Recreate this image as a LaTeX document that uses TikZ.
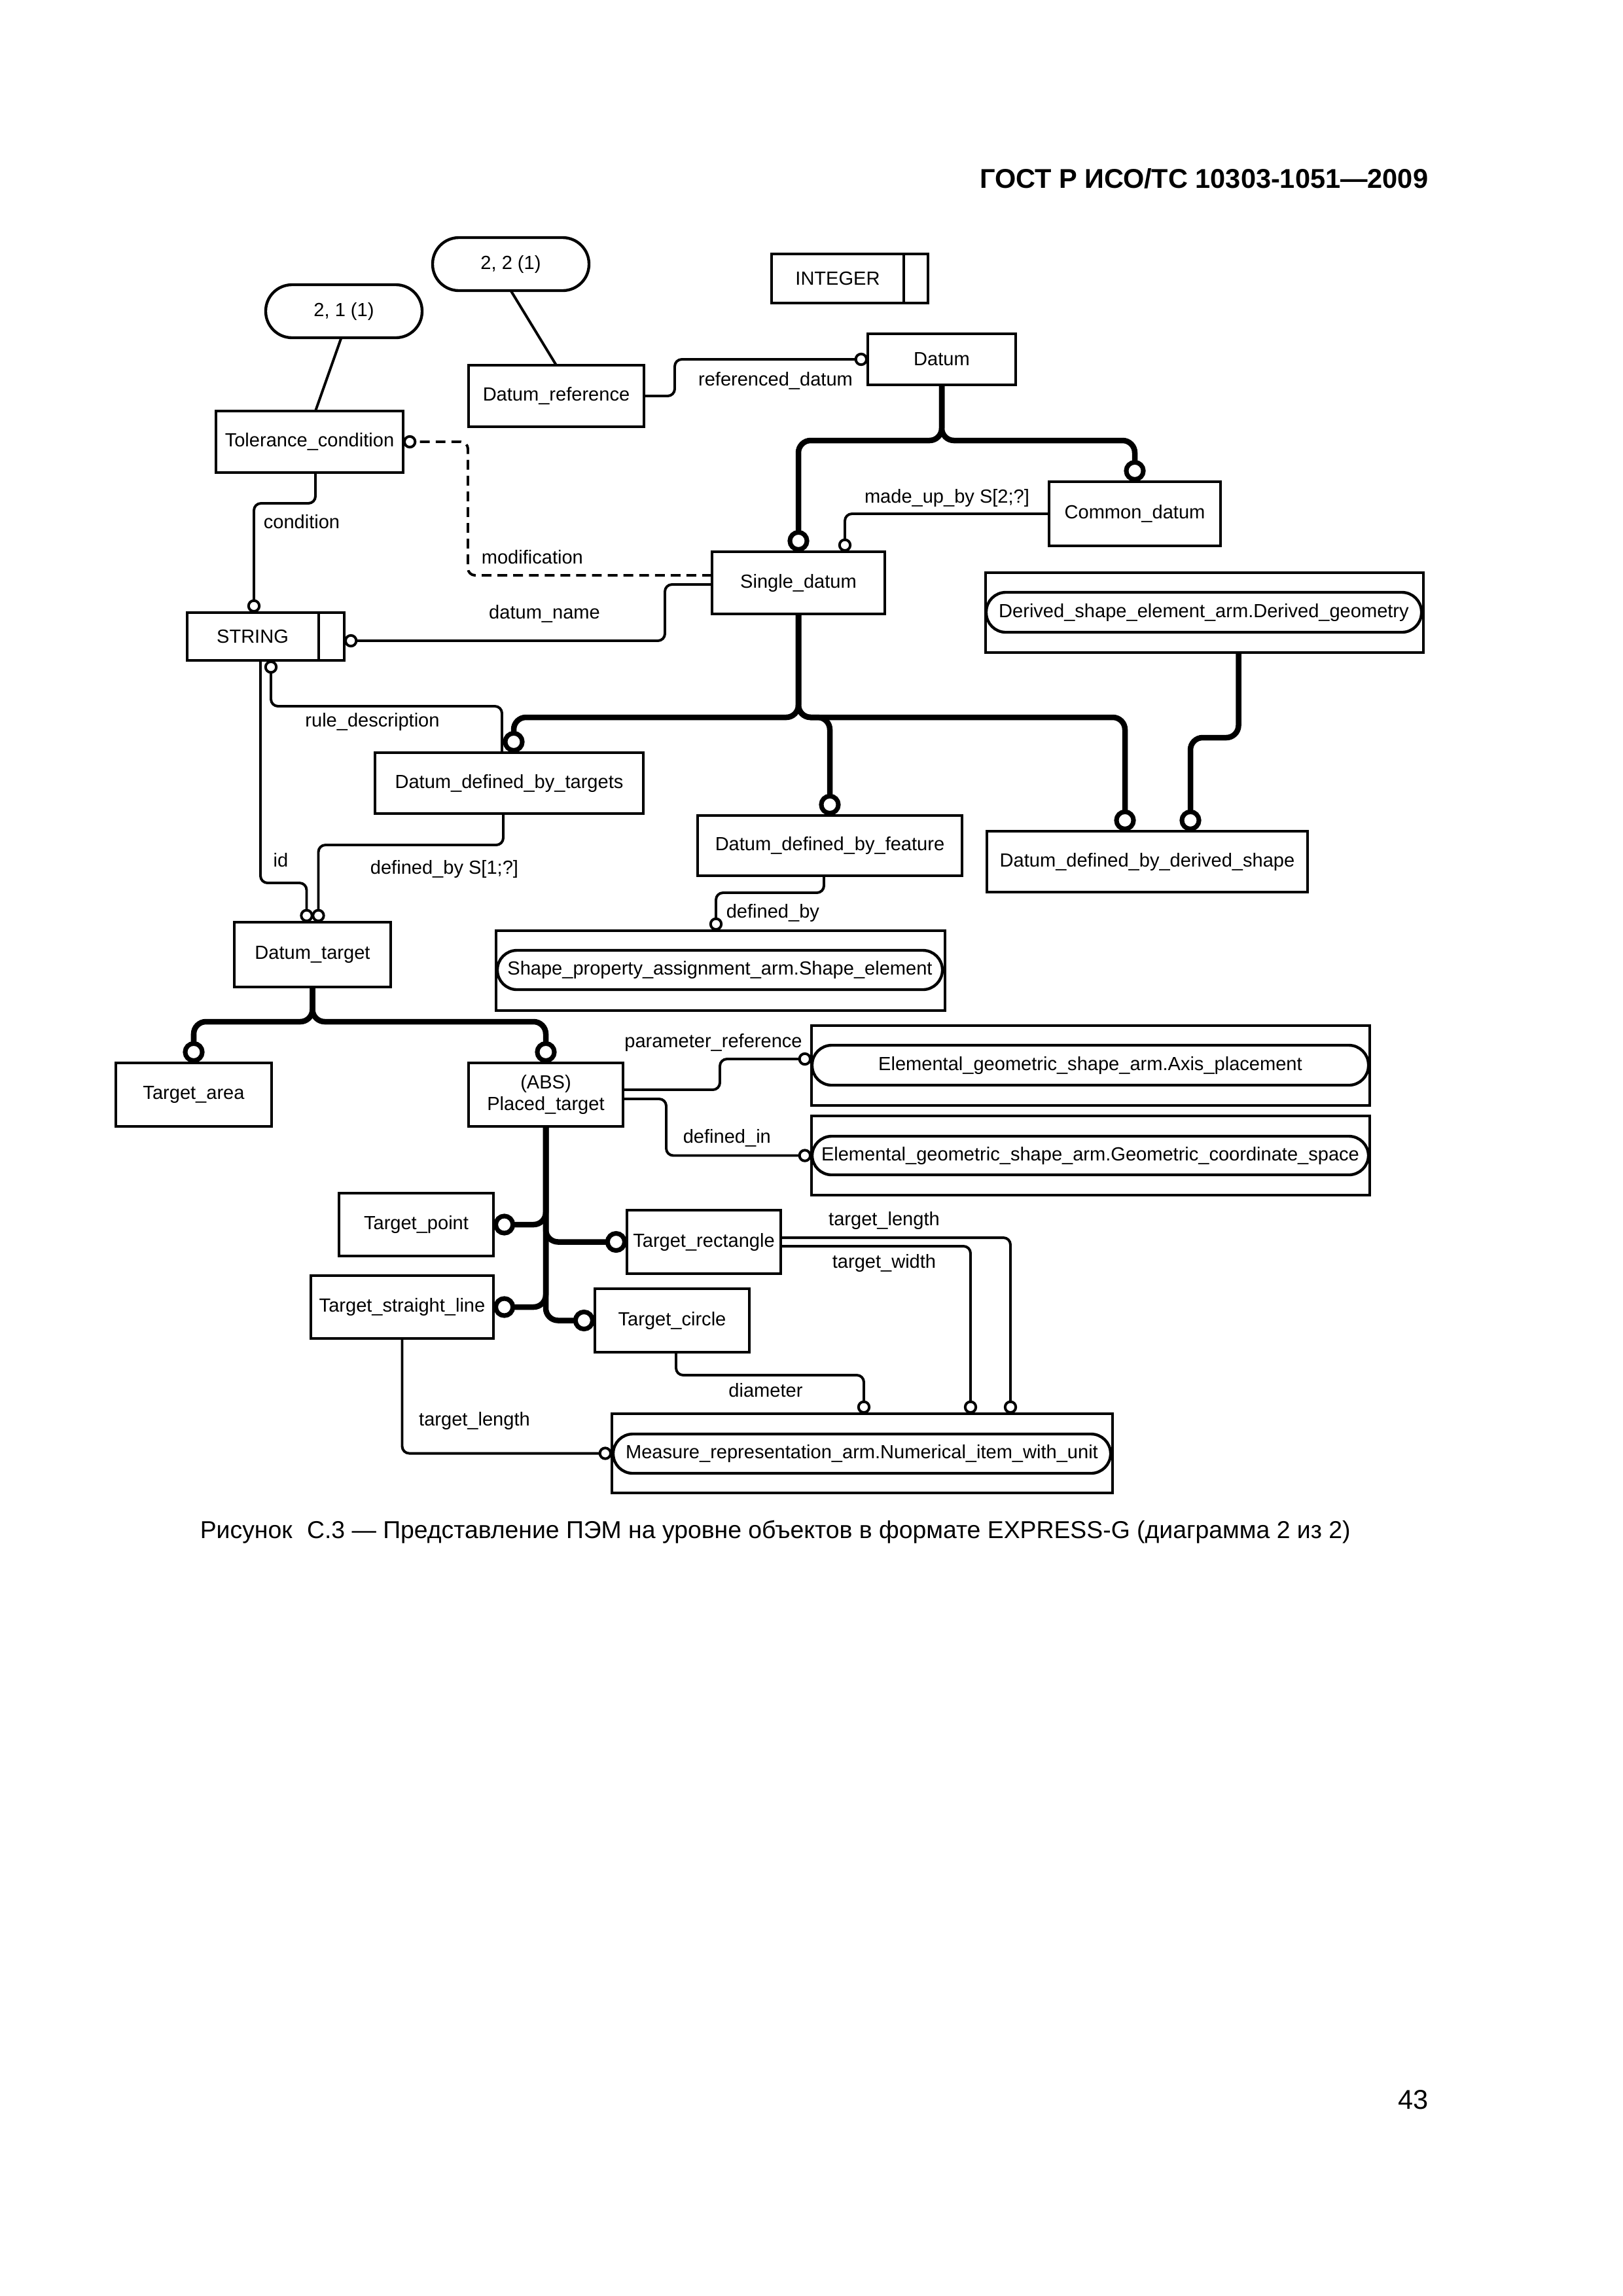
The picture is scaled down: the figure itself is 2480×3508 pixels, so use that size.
\documentclass[tikz,border=0pt]{standalone}
\usepackage{fontspec}
\setmainfont{Liberation Sans}
\usetikzlibrary{arrows.meta,calc}
\def\px{0.24094pt}
\newcommand\DiagFont{\fontsize{7}{8}\selectfont}
\newcommand\EntBox[7][ent]{\node[#1, minimum width={(#5-#3)*\px}, minimum height={(#6-#4)*\px}] (#2) at ({(#3+#5)/2},{(#4+#6)/2}) {#7};}
\begin{document}
\begin{tikzpicture}[x=0.24094pt, y=-0.24094pt,
  ent/.style={draw, line width=1.05pt, inner sep=0pt, outer sep=0pt, font=\DiagFont, align=center},
  oval/.style={ent, rounded corners=9.7pt},
  inoval/.style={ent, rounded corners=7.2pt},
  plain/.style={line width=0.95pt},
  rel/.style={line width=0.95pt, rounded corners=2.6pt, -{Circle[open,length=4.9pt,width=4.9pt]}},
  sub/.style={line width=2.05pt, rounded corners=4.5pt, -{Circle[open,length=8pt,width=8pt,line width=1.7pt]}},
  lbl/.style={font=\DiagFont, inner sep=0pt}]
\useasboundingbox (0,0) rectangle (2480,3508);
\fill[white] (0,0) rectangle (2480,3508);

% header, caption, page number
\node[anchor=base east, font=\fontsize{10}{12}\selectfont\bfseries, inner sep=0pt] (hdr) at (2183,287) {ГОСТ Р ИСО/ТС 10303-1051—2009};
\node[anchor=base west, font=\fontsize{9}{11}\selectfont, inner sep=0pt] (cap) at (305,2350) {Рисунок\hspace{0.6em}С.3 — Представление ПЭМ на уровне объектов в формате EXPRESS-G (диаграмма 2 из 2)};
\node[anchor=base east, font=\fontsize{10}{12}\selectfont, inner sep=0pt] (pg) at (2183,3222) {43};

% entities
\EntBox[oval]{ovA}{406}{435}{645}{516}{2, 1 (1)}
\EntBox[oval]{ovB}{661}{363}{900}{444}{2, 2 (1)}
\EntBox{integer}{1179}{388}{1418}{463}{}
\node[lbl] (integertxt) at (1280,425.5) {INTEGER};
\draw[line width=1.05pt] ($(integer.north east)+(-37,0)$) -- ($(integer.south east)+(-37,0)$);
\EntBox{datum}{1326}{510}{1552}{588}{Datum}
\EntBox{dref}{716}{558}{984}{652}{Datum\_reference}
\EntBox{tol}{330}{628}{616}{722}{Tolerance\_condition}
\EntBox{common}{1603}{736}{1865}{834}{Common\_datum}
\EntBox{single}{1088}{843}{1352}{938}{Single\_datum}
\EntBox{string}{286}{936}{526}{1009}{}
\node[lbl] (stringtxt) at (386,972.5) {STRING};
\draw[line width=1.05pt] ($(string.north east)+(-39,0)$) -- ($(string.south east)+(-39,0)$);
\EntBox{derived}{1506}{875}{2175}{997}{}
\EntBox[inoval]{derivedin}{1507}{905}{2172}{966}{Derived\_shape\_element\_arm.Derived\_geometry}
\EntBox{ddt}{573}{1150}{983}{1243}{Datum\_defined\_by\_targets}
\EntBox{ddf}{1066}{1246}{1470}{1338}{Datum\_defined\_by\_feature}
\EntBox{dds}{1508}{1270}{1998}{1363}{Datum\_defined\_by\_derived\_shape}
\EntBox{dtarget}{358}{1409}{597}{1508}{Datum\_target}
\EntBox{shape}{758}{1422}{1444}{1544}{}
\EntBox[inoval]{shapein}{760}{1452}{1440}{1512}{Shape\_property\_assignment\_arm.Shape\_element}
\EntBox{tarea}{177}{1624}{415}{1721}{Target\_area}
\EntBox{placed}{716}{1624}{952}{1721}{(ABS)\\Placed\_target}
\EntBox{axis}{1240}{1567}{2093}{1689}{}
\EntBox[inoval]{axisin}{1241}{1597}{2091}{1658}{Elemental\_geometric\_shape\_arm.Axis\_placement}
\EntBox{geo}{1240}{1705}{2093}{1826}{}
\EntBox[inoval]{geoin}{1241}{1736}{2091}{1795}{Elemental\_geometric\_shape\_arm.Geometric\_coordinate\_space}
\EntBox{tpoint}{518}{1823}{754}{1919}{Target\_point}
\EntBox{trect}{958}{1849}{1193}{1946}{Target\_rectangle}
\EntBox{tline}{475}{1949}{754}{2045}{Target\_straight\_line}
\EntBox{tcircle}{909}{1969}{1145}{2066}{Target\_circle}
\EntBox{measure}{935}{2160}{1700}{2281}{}
\EntBox[inoval]{measurein}{937}{2191}{1697}{2251}{Measure\_representation\_arm.Numerical\_item\_with\_unit}

% page references
\draw[plain] ($(ovA.south)+(-4,0)$) -- ($(tol.north)+(9,0)$);
\draw[plain] (ovB.south) -- (dref.north);

% attributes
\draw[rel] (dref.east) -- (1031,605) -- (1031,549) -- (datum.west);
\draw[rel, dash pattern=on 3.6pt off 2.2pt] ($(single.west)+(0,-11.5)$) -- (715,879) -- (715,675) -- (tol.east);
\draw[rel] ($(tol.south)+(9,0)$) -- (482,769) -| ($(string.north)+(-18,0)$);
\draw[rel] ($(single.west)+(0,2.5)$) -- (1016,893) -- (1016,979) -- ($(string.east)+(0,6.5)$);
\draw[rel] (common.west) -| ($(single.north)+(71,0)$);
\draw[rel] ($(ddt.north)+(-11,0)$) -- (767,1079) -| ($(string.south)+(8,0)$);
\draw[rel] ($(string.south)+(-8,0)$) -- (398,1349) -| ($(dtarget.north)+(-9,0)$);
\draw[rel] ($(ddt.south)+(-9,0)$) -- (769,1291) -| ($(dtarget.north)+(9,0)$);
\draw[rel] ($(ddf.south)+(-9,0)$) -- (1259,1364) -| ($(shape.north)+(-7,0)$);
\draw[rel] ($(placed.east)+(0,-7.5)$) -- (1100,1665) -- (1100,1618) -- ($(axis.west)+(0,-10)$);
\draw[rel] ($(placed.east)+(0,6.5)$) -- (1018,1679) -- (1018,1765.5) -- (geo.west);
\draw[rel] ($(trect.east)+(0,-6.5)$) -- (1544,1891) -- ($(measure.north)+(226.5,0)$);
\draw[rel] ($(trect.east)+(0,6.5)$) -- (1483,1904) -- ($(measure.north)+(165.5,0)$);
\draw[rel] ($(tcircle.south)+(6,0)$) -- (1033,2101) -| ($(measure.north)+(2.5,0)$);
\draw[rel] (tline.south) |- (measure.west);

% subtypes
\draw[sub] (datum.south) -- ++(0,85) -| (single.north);
\draw[sub] (datum.south) -- ++(0,85) -| (common.north);
\draw[sub] (single.south) -- ++(0,158) -| ($(ddt.north)+(7,0)$);
\draw[sub] (single.south) -- ++(0,158) -| (ddf.north);
\draw[sub] (single.south) -- ++(0,158) -| ($(dds.north)+(-34,0)$);
\draw[sub] ($(derived.south)+(52,0)$) -- ++(0,130) -| ($(dds.north)+(66,0)$);
\draw[sub] (dtarget.south) -- ++(0,53) -| (tarea.north);
\draw[sub] (dtarget.south) -- ++(0,53) -| (placed.north);
\draw[sub] (placed.south) |- (tpoint.east);
\draw[sub] (placed.south) |- (trect.west);
\draw[sub] (placed.south) |- (tline.east);
\draw[sub] (placed.south) |- (tcircle.west);

% labels
\node[lbl] (l1) at (1185,582) {referenced\_datum};
\node[lbl, anchor=west] (l2) at (735,851) {modification};
\node[lbl, anchor=west] (l3) at (402,797) {condition};
\node[lbl] (l4) at (832,938) {datum\_name};
\node[lbl] (l5) at (1447,761) {made\_up\_by S[2;?]};
\node[lbl] (l6) at (569,1103) {rule\_description};
\node[lbl] (l7) at (429,1314) {id};
\node[lbl] (l8) at (679,1328) {defined\_by S[1;?]};
\node[lbl, anchor=west] (l9) at (1109,1395) {defined\_by};
\node[lbl] (l10) at (1090,1593) {parameter\_reference};
\node[lbl, anchor=west] (l11) at (1043,1739) {defined\_in};
\node[lbl] (l12) at (1351,1865) {target\_length};
\node[lbl] (l13) at (1351,1930) {target\_width};
\node[lbl] (l14) at (1170,2124) {diameter};
\node[lbl] (l15) at (725,2171) {target\_length};
\end{tikzpicture}
\end{document}
